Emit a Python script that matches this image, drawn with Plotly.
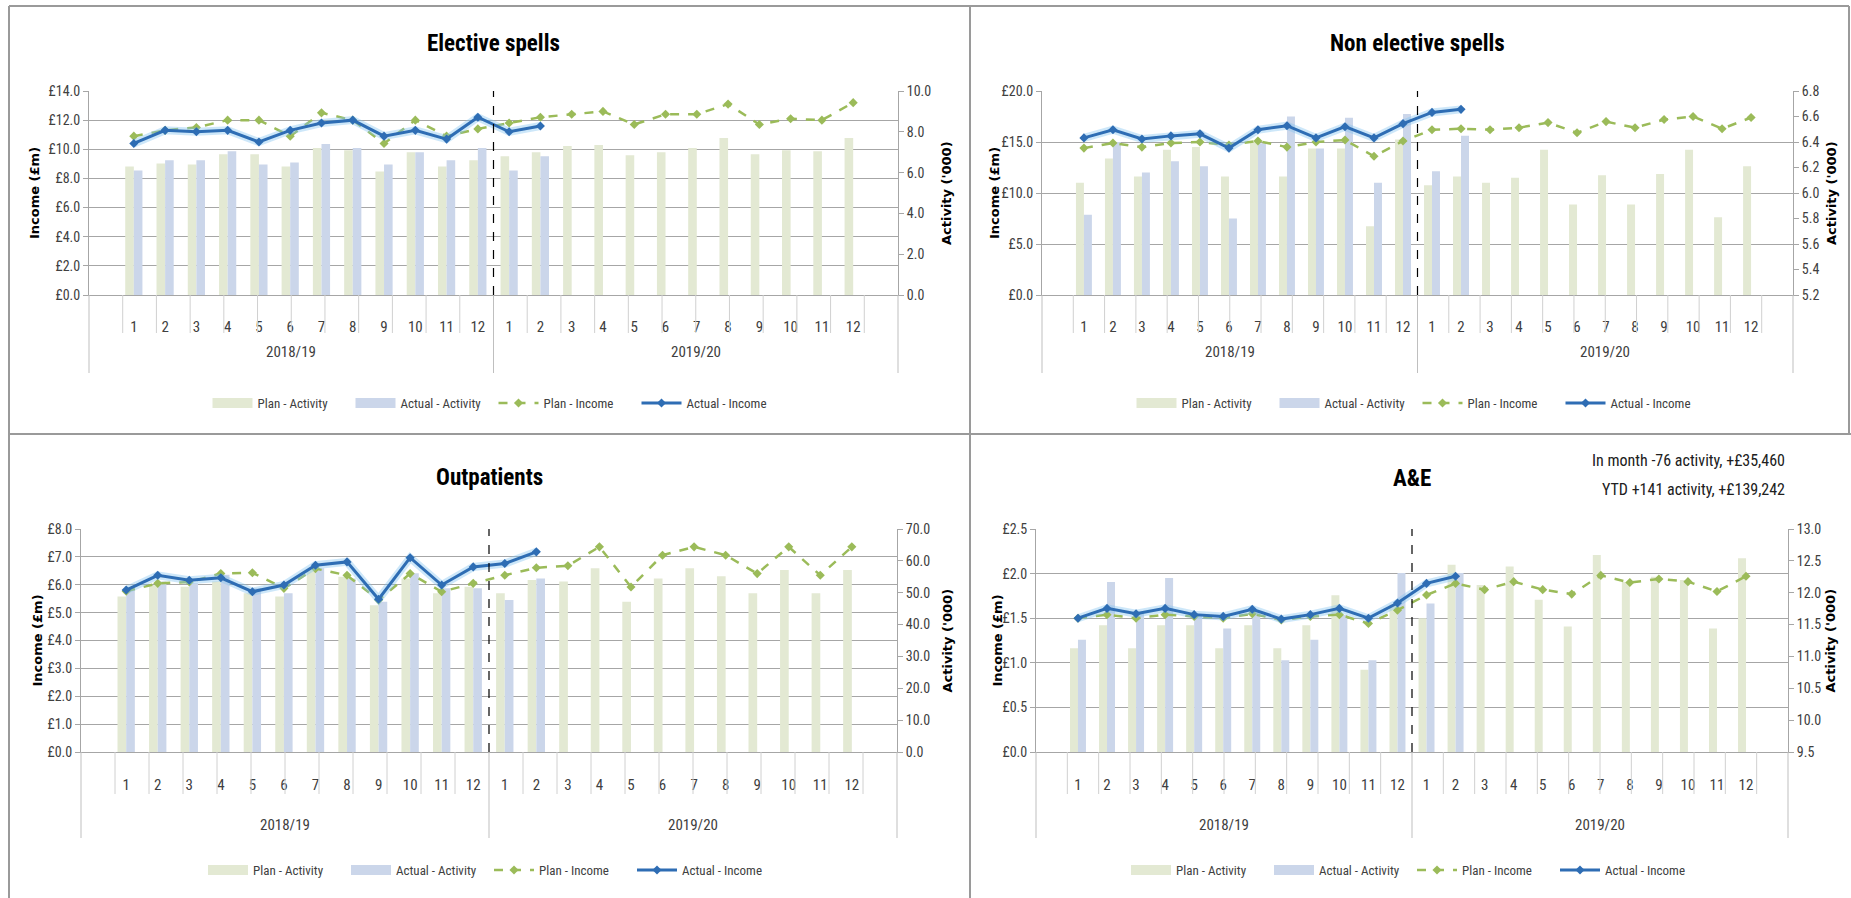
import plotly.graph_objects as go

W, H = 1851, 898

# ---- categories -------------------------------------------------------
years = ["2018/19", "2019/20"]
months = [str(m) for m in range(1, 13)]
cat_years = [y for y in years for _ in months]
cat_months = months * 2
categories = ["%s %s" % (y, m) for y, m in zip(cat_years, cat_months)]

# ---- Elective spells --------------------------------------------------
elective_plan_activity = [6.30, 6.45, 6.40, 6.90, 6.90, 6.30, 7.20, 7.10, 6.05, 7.00, 6.30, 6.60,
                          6.80, 7.00, 7.30, 7.35, 6.85, 7.00, 7.20, 7.70, 6.90, 7.10, 7.05, 7.70]
elective_actual_activity = [6.10, 6.60, 6.60, 7.05, 6.40, 6.50, 7.40, 7.20, 6.40, 7.00, 6.60, 7.20,
                            6.10, 6.80]
elective_plan_income = [10.9, 11.3, 11.5, 12.0, 12.0, 10.9, 12.5, 12.0, 10.4, 12.0, 10.9, 11.4,
                        11.8, 12.2, 12.4, 12.6, 11.7, 12.4, 12.4, 13.1, 11.7, 12.1, 12.0, 13.2]
elective_actual_income = [10.4, 11.3, 11.2, 11.3, 10.5, 11.3, 11.8, 12.0, 10.9, 11.3, 10.7, 12.2,
                          11.2, 11.6]

# ---- Non elective spells ----------------------------------------------
nonelective_plan_activity = [6.08, 6.27, 6.13, 6.34, 6.36, 6.13, 6.40, 6.13, 6.35, 6.35, 5.74, 6.42,
                             6.06, 6.13, 6.08, 6.12, 6.34, 5.91, 6.14, 5.91, 6.15, 6.34, 5.81, 6.21]
nonelective_actual_activity = [5.83, 6.40, 6.16, 6.25, 6.21, 5.80, 6.39, 6.60, 6.35, 6.59, 6.08, 6.62,
                               6.17, 6.45]
nonelective_plan_income = [14.4, 14.9, 14.5, 14.9, 15.0, 14.7, 15.1, 14.5, 15.0, 15.2, 13.6, 15.1,
                           16.2, 16.3, 16.2, 16.4, 16.9, 15.9, 17.0, 16.4, 17.2, 17.5, 16.3, 17.4]
nonelective_actual_income = [15.4, 16.2, 15.3, 15.6, 15.8, 14.4, 16.2, 16.6, 15.4, 16.5, 15.4, 16.8,
                             17.9, 18.2]

# ---- Outpatients ------------------------------------------------------
outpatients_plan_activity = [48.8, 52.4, 51.9, 53.5, 49.8, 48.8, 57.1, 55.0, 46.1, 54.5, 49.8, 51.9,
                             49.8, 54.0, 53.5, 57.7, 47.2, 54.5, 57.7, 55.2, 49.8, 57.1, 49.8, 57.1]
outpatients_actual_activity = [51.4, 53.5, 53.0, 55.6, 51.4, 49.8, 57.7, 54.5, 47.2, 56.1, 51.4, 51.4,
                               47.7, 54.5]
outpatients_plan_income = [5.77, 6.05, 6.10, 6.40, 6.43, 5.87, 6.58, 6.34, 5.45, 6.40, 5.75, 6.05,
                           6.34, 6.61, 6.68, 7.36, 5.92, 7.06, 7.36, 7.06, 6.40, 7.36, 6.34, 7.36]
outpatients_actual_income = [5.81, 6.34, 6.16, 6.25, 5.75, 5.99, 6.70, 6.82, 5.48, 6.97, 5.99, 6.64,
                             6.76, 7.18]

# ---- A&E --------------------------------------------------------------
ae_plan_activity = [11.13, 11.49, 11.13, 11.49, 11.49, 11.13, 11.49, 11.13, 11.49, 11.96, 10.79, 11.81,
                    11.60, 12.44, 12.12, 12.41, 11.89, 11.47, 12.59, 12.17, 12.25, 12.20, 11.44, 12.54]
ae_actual_activity = [11.26, 12.17, 11.70, 12.23, 11.65, 11.44, 11.70, 10.94, 11.26, 11.65, 10.94, 12.31,
                      11.83, 12.31]
ae_plan_income = [1.50, 1.54, 1.50, 1.54, 1.52, 1.50, 1.55, 1.48, 1.52, 1.54, 1.44, 1.59,
                  1.76, 1.89, 1.82, 1.91, 1.82, 1.77, 1.98, 1.90, 1.94, 1.91, 1.80, 1.97]
ae_actual_income = [1.50, 1.61, 1.55, 1.61, 1.54, 1.52, 1.60, 1.49, 1.54, 1.61, 1.50, 1.67,
                    1.89, 1.97]

ae_note = ["In month -76 activity, +£35,460", "YTD +141 activity, +£139,242"]

# ---- styling ------------------------------------------------------------
FONT = "Liberation Sans Narrow, Roboto Condensed, Liberation Sans, sans-serif"
AXIS_TITLE_FONT = "DejaVu Sans, Verdana, sans-serif"
PLAN_BAR = "#e3e9d3"
ACTUAL_BAR = "#cbd6ea"
PLAN_LINE = "#9bbb59"
ACTUAL_LINE = "#2e6db4"
GLOW = "rgba(130,195,240,0.40)"
GRID = "#a6a6a6"
SEP = "#d0d0d0"
TICK_COL = "#404040"


def fx(px):
    return px / W


def fy(py):
    return 1 - py / H


# pixel offsets below each plot: month label standoff, year label centre,
# end of the short month separators and of the long year dividers
panels = [
    dict(title="Elective spells",
         plan_act=elective_plan_activity, act_act=elective_actual_activity,
         plan_inc=elective_plan_income, act_inc=elective_actual_income,
         left=(0, 14, 2), right=(0, 10, 2),
         box=(89, 898, 91, 295), title_y=43, ylab_x=35, y2lab_x=947, legend_y=403,
         month_pad=18, year_off=57, sep_len=38, div_len=78),
    dict(title="Non elective spells",
         plan_act=nonelective_plan_activity, act_act=nonelective_actual_activity,
         plan_inc=nonelective_plan_income, act_inc=nonelective_actual_income,
         left=(0, 20, 5), right=(5.2, 6.8, 0.2),
         box=(1042, 1793, 91, 295), title_y=43, ylab_x=995, y2lab_x=1832, legend_y=403,
         month_pad=18, year_off=57, sep_len=38, div_len=78),
    dict(title="Outpatients",
         plan_act=outpatients_plan_activity, act_act=outpatients_actual_activity,
         plan_inc=outpatients_plan_income, act_inc=outpatients_actual_income,
         left=(0, 8, 1), right=(0, 70, 10),
         box=(81, 897, 529, 752), title_y=477, ylab_x=37, y2lab_x=947, legend_y=870,
         month_pad=19, year_off=73, sep_len=42, div_len=86),
    dict(title="A&E",
         plan_act=ae_plan_activity, act_act=ae_actual_activity,
         plan_inc=ae_plan_income, act_inc=ae_actual_income,
         left=(0, 2.5, 0.5), right=(9.5, 13.0, 0.5),
         box=(1036, 1788, 529, 752), title_y=478, ylab_x=997, y2lab_x=1830, legend_y=870,
         month_pad=19, year_off=73, sep_len=42, div_len=86),
]


def ax(n):
    return "" if n == 1 else str(n)


fig = go.Figure()
annotations = []
shapes = []
layout = {}
n_cat = len(categories)

for k, p in enumerate(panels):
    xa = ax(k + 1)
    ybar = ax(2 * k + 1)
    yline = ax(2 * k + 2)
    leg = "legend" + ax(k + 1)
    x0, x1, y0, y1 = p["box"]
    plot_h = y1 - y0
    x_act = categories[:len(p["act_act"])]
    x_inc = categories[:len(p["act_inc"])]

    # activity bars (right axis)
    fig.add_trace(go.Bar(x=categories, y=p["plan_act"], name="Plan - Activity",
                         marker=dict(color=PLAN_BAR, line=dict(width=0)),
                         xaxis="x" + xa, yaxis="y" + ybar, showlegend=False, offsetgroup="p"))
    fig.add_trace(go.Bar(x=x_act, y=p["act_act"], name="Actual - Activity",
                         marker=dict(color=ACTUAL_BAR, line=dict(width=0)),
                         xaxis="x" + xa, yaxis="y" + ybar, showlegend=False, offsetgroup="a"))

    # legend swatches for the bar series
    for nm, col in (("Plan - Activity", PLAN_BAR), ("Actual - Activity", ACTUAL_BAR)):
        fig.add_trace(go.Scatter(x=[None], y=[None], mode="lines", name=nm,
                                 line=dict(color=col, width=10),
                                 xaxis="x" + xa, yaxis="y" + yline, legend=leg))

    # income lines (left axis)
    fig.add_trace(go.Scatter(x=categories, y=p["plan_inc"], name="Plan - Income", mode="lines+markers",
                             line=dict(color=PLAN_LINE, width=2.5, dash="dash"),
                             marker=dict(symbol="diamond", size=7, color=PLAN_LINE),
                             xaxis="x" + xa, yaxis="y" + yline, legend=leg))
    fig.add_trace(go.Scatter(x=x_inc, y=p["act_inc"], mode="lines", showlegend=False,
                             line=dict(color=GLOW, width=8), hoverinfo="skip",
                             xaxis="x" + xa, yaxis="y" + yline))
    fig.add_trace(go.Scatter(x=x_inc, y=p["act_inc"], name="Actual - Income", mode="lines+markers",
                             line=dict(color=ACTUAL_LINE, width=3),
                             marker=dict(symbol="diamond", size=7, color=ACTUAL_LINE),
                             xaxis="x" + xa, yaxis="y" + yline, legend=leg))

    layout["xaxis" + xa] = dict(
        type="category", categoryorder="array", categoryarray=categories,
        tickmode="array", tickvals=categories, ticktext=cat_months,
        domain=[fx(x0), fx(x1)], anchor="y" + ybar, automargin=False,
        showgrid=False, showline=True, linecolor=GRID, linewidth=1, ticks="",
        ticklabelstandoff=p["month_pad"],
        tickfont=dict(family=FONT, size=15, color=TICK_COL))
    rlo, rhi, rstep = p["right"]
    layout["yaxis" + ybar] = dict(
        domain=[fy(y1), fy(y0)], anchor="x" + xa, side="right", automargin=False,
        range=[rlo, rhi], dtick=rstep, tick0=rlo, tickformat=".1f",
        showgrid=False, zeroline=False, showline=True, linecolor=GRID,
        ticks="outside", ticklen=5, tickcolor=GRID,
        tickfont=dict(family=FONT, size=14, color=TICK_COL))
    llo, lhi, lstep = p["left"]
    layout["yaxis" + yline] = dict(
        overlaying="y" + ybar, anchor="x" + xa, side="left", automargin=False,
        range=[llo, lhi], dtick=lstep, tick0=llo, tickformat=".1f", tickprefix="£",
        showgrid=True, gridcolor=GRID, gridwidth=1, zeroline=False,
        showline=True, linecolor=GRID, ticks="outside", ticklen=5, tickcolor=GRID,
        tickfont=dict(family=FONT, size=14, color=TICK_COL))
    layout[leg] = dict(
        orientation="h", x=fx((x0 + x1) / 2), xanchor="center",
        y=fy(p["legend_y"]), yanchor="middle", bgcolor="rgba(0,0,0,0)",
        font=dict(family=FONT, size=13, color=TICK_COL), itemwidth=40,
        entrywidth=88, traceorder="normal")

    # month separators and year dividers under the plot
    xdom = "x%s domain" % xa
    ydom = "y%s domain" % ybar
    for i in range(n_cat + 1):
        f = i / n_cat
        long = i % len(months) == 0
        shapes.append(dict(type="line", xref=xdom, yref=ydom, x0=f, x1=f, y0=0,
                           y1=-(p["div_len"] if long else p["sep_len"]) / plot_h,
                           line=dict(color="#bfbfbf" if long else SEP, width=1)))
    for j, yr in enumerate(years):
        annotations.append(dict(text=yr, xref=xdom, yref=ydom, x=(j + 0.5) / len(years),
                                y=-p["year_off"] / plot_h, showarrow=False,
                                xanchor="center", yanchor="middle",
                                font=dict(family=FONT, size=15, color=TICK_COL)))

    # panel title and axis titles
    annotations.append(dict(text="<b>%s</b>" % p["title"], x=fx((x0 + x1) / 2), y=fy(p["title_y"]),
                            xref="paper", yref="paper", showarrow=False,
                            xanchor="center", yanchor="middle",
                            font=dict(family=FONT, size=23, color="#000000")))
    annotations.append(dict(text="<b>Income (£m)</b>", x=fx(p["ylab_x"]), y=fy((y0 + y1) / 2),
                            xref="paper", yref="paper", showarrow=False, textangle=-90,
                            xanchor="center", yanchor="middle",
                            font=dict(family=AXIS_TITLE_FONT, size=13, color="#000000")))
    annotations.append(dict(text="<b>Activity ('000)</b>", x=fx(p["y2lab_x"]), y=fy((y0 + y1) / 2),
                            xref="paper", yref="paper", showarrow=False, textangle=-90,
                            xanchor="center", yanchor="middle",
                            font=dict(family=AXIS_TITLE_FONT, size=13, color="#000000")))

    # dashed separator between the two financial years
    split = len(months) / n_cat
    shapes.append(dict(type="line", xref=xdom, yref=ydom,
                       x0=split, x1=split, y0=0, y1=1,
                       line=dict(color="#000000", width=1.2, dash="dash")))

# note in the A&E panel
for i, line in enumerate(ae_note):
    annotations.append(dict(text=line, x=fx(1787), y=fy(460 + 30 * i), xref="paper", yref="paper",
                            xanchor="right", yanchor="middle", showarrow=False,
                            font=dict(family=FONT, size=16, color="#202020")))

# panel frames
FRAME = dict(color="#9a9a9a", width=2)
for (a, b, c, d) in [(9, 6, 1849, 6), (9, 6, 9, 898), (1849, 6, 1849, 434),
                     (970, 6, 970, 898), (9, 434, 1851, 434)]:
    shapes.append(dict(type="line", xref="paper", yref="paper",
                       x0=fx(a), y0=fy(b), x1=fx(c), y1=fy(d), line=FRAME))

fig.update_layout(
    width=W, height=H, margin=dict(l=0, r=0, t=0, b=0, autoexpand=False),
    paper_bgcolor="white", plot_bgcolor="white",
    barmode="group", bargap=0.45, bargroupgap=0,
    annotations=annotations, shapes=shapes,
    font=dict(family=FONT, color=TICK_COL),
    **layout)

fig.write_html("out.html")
